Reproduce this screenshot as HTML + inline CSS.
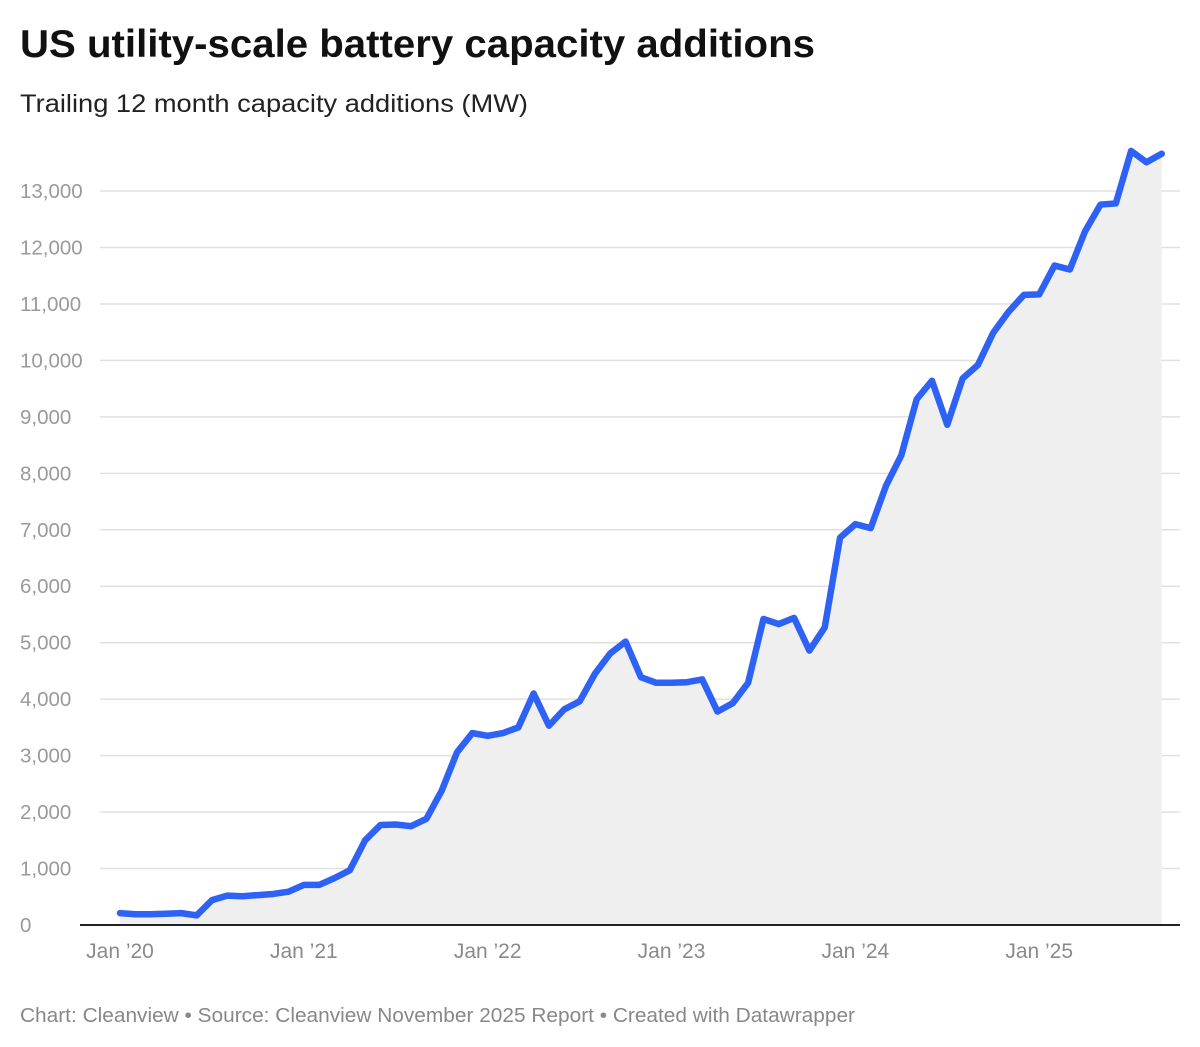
<!DOCTYPE html>
<html><head><meta charset="utf-8"><style>
body{margin:0;background:#fff;width:1200px;height:1047px;overflow:hidden;font-family:"Liberation Sans",sans-serif}
</style></head><body>
<svg width="1200" height="1047" style="position:absolute;left:0;top:0">
<text x="20" y="57" font-size="39" font-weight="bold" fill="#111" textLength="795" lengthAdjust="spacingAndGlyphs">US utility-scale battery capacity additions</text>
<text x="20" y="112" font-size="25" fill="#222" textLength="508" lengthAdjust="spacingAndGlyphs">Trailing 12 month capacity additions (MW)</text>
<g id="grid"></g><g id="plot"></g><g id="axes"></g>
<text x="20" y="1022" font-size="20" fill="#888" textLength="835" lengthAdjust="spacingAndGlyphs">Chart: Cleanview • Source: Cleanview November 2025 Report • Created with Datawrapper</text>
</svg>
<script>
const values=[210,190,190,200,210,170,440,520,510,530,550,590,
710,710,830,970,1500,1770,1780,1750,1880,2380,3060,3400,
3350,3400,3500,4100,3530,3820,3960,4450,4810,5020,4390,4290,
4290,4300,4350,3780,3930,4290,5420,5330,5440,4860,5270,6860,
7100,7030,7780,8320,9310,9640,8860,9680,9920,10490,10860,11160,
11170,11680,11610,12290,12760,12780,13710,13510,13660];
const yTicks=[0,1000,2000,3000,4000,5000,6000,7000,8000,9000,10000,11000,12000,13000];
const xLabels=["Jan \u201920","Jan \u201921","Jan \u201922","Jan \u201923","Jan \u201924","Jan \u201925"];
const xLabelMonths=[0,12,24,36,48,60];
const NS="http://www.w3.org/2000/svg";
const x=m=>120+m*15.32, y=v=>925-v*0.05646;
function mk(t,a,p){const e=document.createElementNS(NS,t);for(const k in a)e.setAttribute(k,a[k]);p.appendChild(e);return e;}
const grid=document.getElementById('grid'),plot=document.getElementById('plot'),axes=document.getElementById('axes');
yTicks.forEach(v=>{
 if(v>0){const l=mk('line',{x1:100,x2:1180,y1:y(v),y2:y(v),stroke:'#e0e0e0','stroke-width':1.5},grid);
 
 }
 const t=mk('text',{x:20,y:y(v)+7,'font-size':20.5,fill:'#9a9a9a'},axes);
 t.textContent=v.toLocaleString('en-US');
 
 
});
let d=values.map((v,i)=>(i?'L':'M')+x(i)+','+y(v)).join('');
const area=mk('path',{d:d+'L'+x(values.length-1)+','+y(0)+'L'+x(0)+','+y(0)+'Z',fill:'#efefef'},plot);


const line=mk('path',{d:d,fill:'none',stroke:'#2d62f5','stroke-width':6.5,'stroke-linejoin':'round','stroke-linecap':'round'},plot);


const base=mk('line',{x1:80,x2:1180,y1:y(0),y2:y(0),stroke:'#222','stroke-width':2},axes);


xLabels.forEach((s,i)=>{const t=mk('text',{x:x(xLabelMonths[i]),y:958,'font-size':21,fill:'#8a8a8a','text-anchor':'middle'},axes);
 t.textContent=s;
 
 });
</script>
</body></html>
